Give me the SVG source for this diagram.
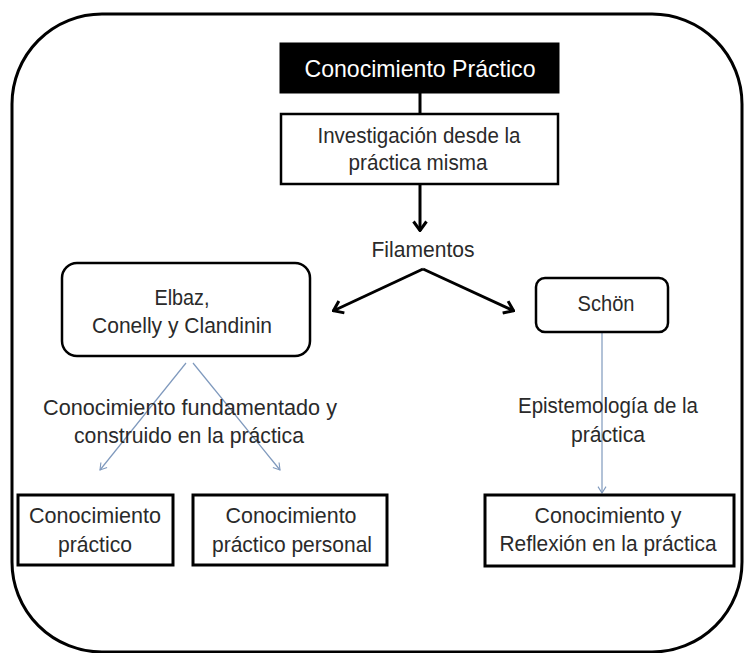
<svg xmlns="http://www.w3.org/2000/svg" width="745" height="653" viewBox="0 0 745 653">
  <style>
    .frame { fill: none; stroke: #000; stroke-width: 3; }
    .box { fill: #fff; stroke: #000; stroke-width: 2.5; }
    .thick { fill: #fff; stroke: #000; stroke-width: 3; }
    .title { fill: #000; stroke: #000; stroke-width: 1; }
    .t { font-family: "Liberation Sans", Arial, sans-serif; font-size: 22.5px; fill: #2a2a2a; text-anchor: middle; }
    .tw { font-family: "Liberation Sans", Arial, sans-serif; font-size: 24px; fill: #fff; text-anchor: middle; }
    .main { fill: none; stroke: #000; stroke-width: 3; }
    .thin { fill: none; stroke: #7f99bd; stroke-width: 1.2; }
  </style>
  <defs>
    <marker id="arrowBold" viewBox="0 0 12 16" refX="11" refY="8" markerWidth="12" markerHeight="16" markerUnits="userSpaceOnUse" orient="auto">
      <path d="M1.5,1.5 L10.5,8 L1.5,14.5" fill="none" stroke="#000" stroke-width="3"/>
    </marker>
    <marker id="arrowThin" viewBox="0 0 10 12" refX="9" refY="6" markerWidth="8" markerHeight="10" markerUnits="userSpaceOnUse" orient="auto">
      <path d="M1,1 L9,6 L1,11" fill="none" stroke="#7f99bd" stroke-width="1.4"/>
    </marker>
  </defs>

  <!-- outer rounded frame -->
  <rect class="frame" x="12" y="14" width="730" height="638" rx="90" ry="90"/>

  <!-- connectors -->
  <g id="connectors">
    <line class="main" x1="420" y1="93" x2="420" y2="114" stroke-width="2.5"/>
    <line class="main" x1="420" y1="184" x2="420" y2="231" marker-end="url(#arrowBold)"/>
    <line class="main" x1="423" y1="269" x2="333" y2="311" marker-end="url(#arrowBold)"/>
    <line class="main" x1="423" y1="269" x2="514" y2="311" marker-end="url(#arrowBold)"/>
    <line class="thin" x1="186" y1="363" x2="100" y2="470" marker-end="url(#arrowThin)"/>
    <line class="thin" x1="193" y1="363" x2="280" y2="470" marker-end="url(#arrowThin)"/>
    <line class="thin" x1="602" y1="332" x2="602" y2="493" marker-end="url(#arrowThin)"/>
  </g>

  <g id="node-conocimiento-practico">
    <rect class="title" x="280" y="43" width="279" height="50"/>
    <text class="tw" x="420" y="77" textLength="231" lengthAdjust="spacingAndGlyphs">Conocimiento Práctico</text>
  </g>

  <g id="node-investigacion">
    <rect class="box" x="281" y="114" width="277" height="70"/>
    <text class="t" x="419" y="143" textLength="203" lengthAdjust="spacingAndGlyphs">Investigación desde la</text>
    <text class="t" x="418" y="170" textLength="139" lengthAdjust="spacingAndGlyphs">práctica misma</text>
  </g>

  <g id="label-filamentos">
    <text class="t" x="423" y="257" textLength="103" lengthAdjust="spacingAndGlyphs">Filamentos</text>
  </g>

  <g id="node-elbaz">
    <rect class="box" x="62" y="263" width="248" height="93" rx="15" ry="15"/>
    <text class="t" x="182" y="305" textLength="55" lengthAdjust="spacingAndGlyphs">Elbaz,</text>
    <text class="t" x="182" y="333" textLength="180" lengthAdjust="spacingAndGlyphs">Conelly y Clandinin</text>
  </g>

  <g id="node-schon">
    <rect class="box" x="536" y="278" width="132" height="54" rx="9" ry="9"/>
    <text class="t" x="606" y="311" textLength="57" lengthAdjust="spacingAndGlyphs">Schön</text>
  </g>

  <g id="label-fundamentado">
    <text class="t" x="190" y="415" textLength="294" lengthAdjust="spacingAndGlyphs">Conocimiento  fundamentado y</text>
    <text class="t" x="189" y="443" textLength="230" lengthAdjust="spacingAndGlyphs">construido en la práctica</text>
  </g>

  <g id="label-epistemologia">
    <text class="t" x="608" y="413" textLength="180" lengthAdjust="spacingAndGlyphs">Epistemología de la</text>
    <text class="t" x="608" y="442" textLength="74" lengthAdjust="spacingAndGlyphs">práctica</text>
  </g>

  <g id="node-conocimiento-practico-1">
    <rect class="thick" x="18" y="495" width="155" height="70"/>
    <text class="t" x="95" y="523" textLength="132" lengthAdjust="spacingAndGlyphs">Conocimiento</text>
    <text class="t" x="95" y="552" textLength="74" lengthAdjust="spacingAndGlyphs">práctico</text>
  </g>

  <g id="node-conocimiento-practico-personal">
    <rect class="thick" x="193" y="495" width="194" height="70"/>
    <text class="t" x="291" y="523" textLength="131" lengthAdjust="spacingAndGlyphs">Conocimiento</text>
    <text class="t" x="292" y="552" textLength="160" lengthAdjust="spacingAndGlyphs">práctico personal</text>
  </g>

  <g id="node-reflexion">
    <rect class="thick" x="485" y="495" width="249" height="71"/>
    <text class="t" x="608" y="523" textLength="147" lengthAdjust="spacingAndGlyphs">Conocimiento y</text>
    <text class="t" x="608" y="551" textLength="217" lengthAdjust="spacingAndGlyphs">Reflexión en la práctica</text>
  </g>
</svg>
